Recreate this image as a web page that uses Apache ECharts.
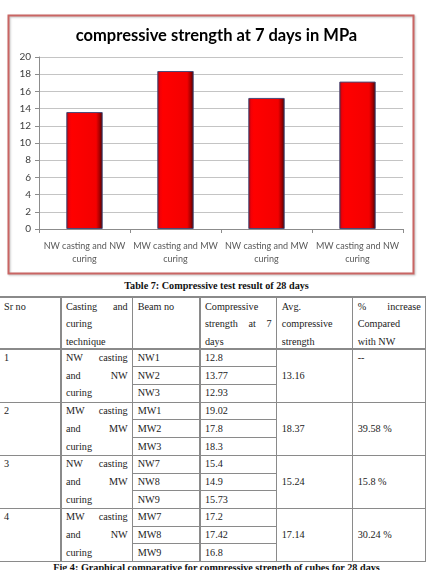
<!DOCTYPE html>
<html>
<head>
<meta charset="utf-8">
<script src="https://cdn.jsdelivr.net/npm/echarts@6/dist/echarts.min.js"></script>
<style>
  html, body { margin: 0; padding: 0; background: #fff; }
  body { width: 433px; height: 570px; position: relative; overflow: hidden; }
  #chart { position: absolute; left: 0; top: 0; width: 433px; height: 280px; }
  .hdr { position: absolute; top: -11px; font: 10px "Liberation Serif", serif; }
  .cap { position: absolute; left: 0; width: 433px; text-align: center;
         font: bold 10.2px "Liberation Serif", serif; color: #111; white-space: nowrap; }
  .cell { position: absolute; box-sizing: border-box; font: 10.2px "Liberation Serif", serif; color: #222;
          white-space: nowrap; }
  .line { position: absolute; background: #8a8a8a; }
  .jl { display: flex; justify-content: space-between; }
</style>
</head>
<body>
<div class="hdr" style="left:8px;color:#203864;">www.ijert.org</div>
<div class="hdr" style="right:4px;color:#777;">ISSN: 2278-0181</div>
<div id="chart"></div>
<div class="cap" style="top:280px;">Table 7: Compressive test result of 28 days</div>
<div id="table"></div>
<div class="cap" style="top:562px;">Fig 4: Graphical comparative for compressive strength of cubes for 28 days</div>
<script>
// ---- chart data ----
const categories = ['NW casting and NW\ncuring', 'MW casting and MW\ncuring', 'NW casting and MW\ncuring', 'MW casting and NW\ncuring'];
const strength7 = [13.6, 18.37, 15.24, 17.14];
const chartTitle = 'compressive strength at 7 days in MPa';

// ---- table data ----
const headers = [['Sr no'], ['Casting|and', 'curing', 'technique'], ['Beam no'], ['Compressive', 'strength|at|7', 'days'], ['Avg.', 'compressive', 'strength'], ['%|increase', 'Compared', 'with NW']];
const srNo = ['1', '2', '3', '4'];
const technique = [['NW|casting', 'and|NW', 'curing'], ['MW|casting', 'and|MW', 'curing'], ['NW|casting', 'and|MW', 'curing'], ['MW|casting', 'and|NW', 'curing']];
const beams = [['NW1', 'NW2', 'NW3'], ['MW1', 'MW2', 'MW3'], ['NW7', 'NW8', 'NW9'], ['MW7', 'MW8', 'MW9']];
const strengths = [['12.8', '13.77', '12.93'], ['19.02', '17.8', '18.3'], ['15.4', '14.9', '15.73'], ['17.2', '17.42', '16.8']];
const avgStrength = ['13.16', '18.37', '15.24', '17.14'];
const pctIncrease = ['--', '39.58 %', '15.8 %', '30.24 %'];

// ---- chart ----
const chart = echarts.init(document.getElementById('chart'), null, { renderer: 'canvas' });
const font = 'Lato, "Open Sans", sans-serif';
chart.setOption({
  animation: false,
  title: {
    text: chartTitle, left: 'center', top: 22,
    textStyle: { fontFamily: font, fontSize: 16.5, fontWeight: 'bold', color: '#000' }
  },
  grid: { left: 39, right: 30, top: 57, bottom: 51, containLabel: false },
  xAxis: {
    type: 'category', data: categories,
    axisLine: { lineStyle: { color: '#8c8c8c' } },
    axisTick: { show: true, length: 4, lineStyle: { color: '#8c8c8c' } },
    axisLabel: { color: '#595959', fontFamily: font, fontSize: 9, lineHeight: 12.5, margin: 11, interval: 0 }
  },
  yAxis: {
    type: 'value', min: 0, max: 20, interval: 2,
    axisLine: { show: true, lineStyle: { color: '#8c8c8c' } },
    axisTick: { show: true, length: 4, lineStyle: { color: '#8c8c8c' } },
    splitLine: { lineStyle: { color: '#c4c4c4', width: 1 } },
    axisLabel: { color: '#404040', fontFamily: font, fontSize: 10, margin: 8 }
  },
  series: [{
    type: 'bar', data: strength7, barWidth: '40%',
    itemStyle: {
      color: new echarts.graphic.LinearGradient(0, 0, 1, 0, [
        { offset: 0, color: '#7a0a10' },
        { offset: 0.07, color: '#f00008' },
        { offset: 0.15, color: '#ff0000' },
        { offset: 0.82, color: '#f40000' },
        { offset: 0.93, color: '#9a0000' },
        { offset: 1, color: '#2a0005' }
      ]),
      borderColor: '#4b4a78', borderWidth: 1
    }
  }],
  graphic: [{
    type: 'rect', shape: { x: 8.5, y: 15.5, width: 405, height: 258 },
    style: { fill: null, stroke: '#c96563', lineWidth: 2, shadowBlur: 2, shadowColor: 'rgba(0,0,0,0.25)', shadowOffsetX: 1, shadowOffsetY: 1 }
  }]
});

// ---- table ----
const tbl = document.getElementById('table');
const colX = [-2, 61, 132.7, 200, 276.7, 352.7, 425.7];
const headTop = 297, headBottom = 349, subH = 17.72;
const padX = 5;
function addLine(x, y, w, h) {
  const d = document.createElement('div'); d.className = 'line';
  d.style.left = x + 'px'; d.style.top = y + 'px'; d.style.width = w + 'px'; d.style.height = h + 'px';
  tbl.appendChild(d);
}
function addText(col, y, h, text, extraStyle) {
  const d = document.createElement('div'); d.className = 'cell';
  d.style.left = (colX[col] + padX + (col === 0 ? 1 : 0)) + 'px';
  d.style.width = (colX[col + 1] - colX[col] - 2 * padX) + 'px';
  d.style.top = y + 'px'; d.style.height = h + 'px'; d.style.lineHeight = h + 'px';
  const parts = text.split('|');
  if (parts.length > 1) {
    const f = document.createElement('div'); f.className = 'jl';
    parts.forEach(p => { const s = document.createElement('span'); s.textContent = p; f.appendChild(s); });
    d.appendChild(f);
  } else {
    d.textContent = text;
  }
  if (extraStyle) Object.assign(d.style, extraStyle);
  tbl.appendChild(d);
}
// header
const headLH = (headBottom - headTop) / 3;
headers.forEach((lines, c) => lines.forEach((t, i) => addText(c, headTop + 1 + i * headLH, headLH, t)));
// body
srNo.forEach((sr, g) => {
  const gTop = headBottom + g * subH * 3;
  addText(0, gTop, subH, sr);
  technique[g].forEach((t, i) => addText(1, gTop + i * subH, subH, t));
  beams[g].forEach((t, i) => addText(2, gTop + i * subH, subH, t));
  strengths[g].forEach((t, i) => addText(3, gTop + i * subH, subH, t));
  addText(4, gTop, subH * 3, avgStrength[g]);
  if (pctIncrease[g] === '--') addText(5, gTop, subH, pctIncrease[g]);
  else addText(5, gTop, subH * 3, pctIncrease[g]);
});
// lines
const tableBottom = headBottom + subH * 12;
const lw = 1.3;
colX.forEach(x => addLine(x - lw / 2, headTop, lw, tableBottom - headTop + lw / 2));
addLine(colX[0], headTop - lw / 2, colX[6] - colX[0], lw);
for (let g = 0; g <= 4; g++) {
  const y = headBottom + g * subH * 3;
  addLine(colX[0], y - lw / 2, colX[6] - colX[0], lw);
  if (g < 4) {
    for (let i = 1; i < 3; i++) addLine(colX[2], y + i * subH - 0.5, colX[4] - colX[2], 1);
  }
}
</script>
</body>
</html>
